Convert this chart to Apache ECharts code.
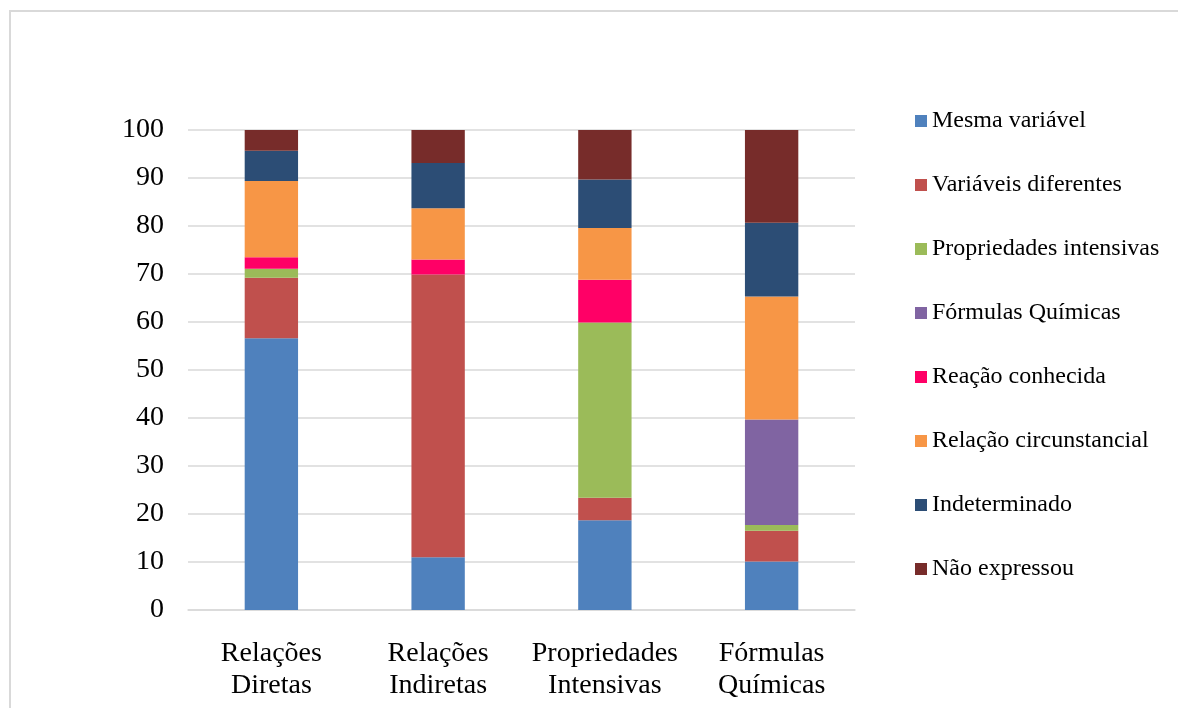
<!DOCTYPE html>
<html>
<head>
<meta charset="utf-8">
<script src="https://cdn.jsdelivr.net/npm/echarts@6/dist/echarts.min.js"></script>
<style>
  html, body { margin: 0; padding: 0; background: #fff; }
  #chart { width: 1178px; height: 708px; }
</style>
</head>
<body>
<div id="chart"></div>
<script>
// Categories along the x axis
const categories = ['Relações\nDiretas', 'Relações\nIndiretas', 'Propriedades\nIntensivas', 'Fórmulas\nQuímicas'];

// Percentage of answers per category (stacked to 100)
const mesmaVariavel        = [56.6, 11.0, 18.7, 10.1];
const variaveisDiferentes  = [12.6, 58.9, 4.7, 6.4];
const propriedadesIntens   = [1.9, 0, 36.5, 1.2];
const formulasQuimicas     = [0, 0, 0, 22.0];
const reacaoConhecida      = [2.4, 3.1, 8.9, 0];
const relacaoCircunst      = [15.9, 10.7, 10.8, 25.6];
const indeterminado        = [6.3, 9.4, 10.1, 15.4];
const naoExpressou         = [4.3, 6.9, 10.3, 19.3];

const yTicks = { min: 0, max: 100, interval: 10 };

const seriesDefs = [
  ['Mesma variável', mesmaVariavel, '#4F81BD'],
  ['Variáveis diferentes', variaveisDiferentes, '#C0504D'],
  ['Propriedades intensivas', propriedadesIntens, '#9BBB59'],
  ['Fórmulas Químicas', formulasQuimicas, '#8064A2'],
  ['Reação conhecida', reacaoConhecida, '#FF0066'],
  ['Relação circunstancial', relacaoCircunst, '#F79646'],
  ['Indeterminado', indeterminado, '#2C4D75'],
  ['Não expressou', naoExpressou, '#772C2A']
];

const FONT = 'Liberation Serif';

const chart = echarts.init(document.getElementById('chart'), null, { renderer: 'canvas' });

chart.setOption({
  animation: false,
  backgroundColor: '#ffffff',
  textStyle: { fontFamily: FONT, color: '#000' },
  graphic: [{
    type: 'rect',
    shape: { x: 10, y: 11, width: 1200, height: 740 },
    style: { fill: 'none', stroke: '#d9d9d9', lineWidth: 2 },
    silent: true
  }],
  grid: { left: 188, right: 323, top: 130, bottom: 98, containLabel: false },
  legend: {
    orient: 'vertical',
    left: 915,
    top: 109,
    padding: 0,
    itemWidth: 12,
    itemHeight: 12,
    itemGap: 40,
    icon: 'rect',
    textStyle: { fontFamily: FONT, fontSize: 24, color: '#000', lineHeight: 24 },
    data: seriesDefs.map(d => d[0])
  },
  xAxis: {
    type: 'category',
    data: categories,
    axisLine: { show: true, lineStyle: { color: '#d9d9d9', width: 1.5 } },
    axisTick: { show: false },
    axisLabel: { fontFamily: FONT, fontSize: 28, color: '#000', lineHeight: 32, margin: 28, interval: 0 }
  },
  yAxis: {
    type: 'value',
    min: yTicks.min,
    max: yTicks.max,
    interval: yTicks.interval,
    axisLine: { show: false },
    axisTick: { show: false },
    splitLine: { lineStyle: { color: '#d9d9d9', width: 1.5 } },
    axisLabel: { fontFamily: FONT, fontSize: 28, color: '#000', margin: 24 }
  },
  series: seriesDefs.map(([name, values, color]) => ({
    name,
    type: 'bar',
    stack: 'total',
    data: values,
    barWidth: '32%',
    itemStyle: { color }
  }))
});
</script>
</body>
</html>
